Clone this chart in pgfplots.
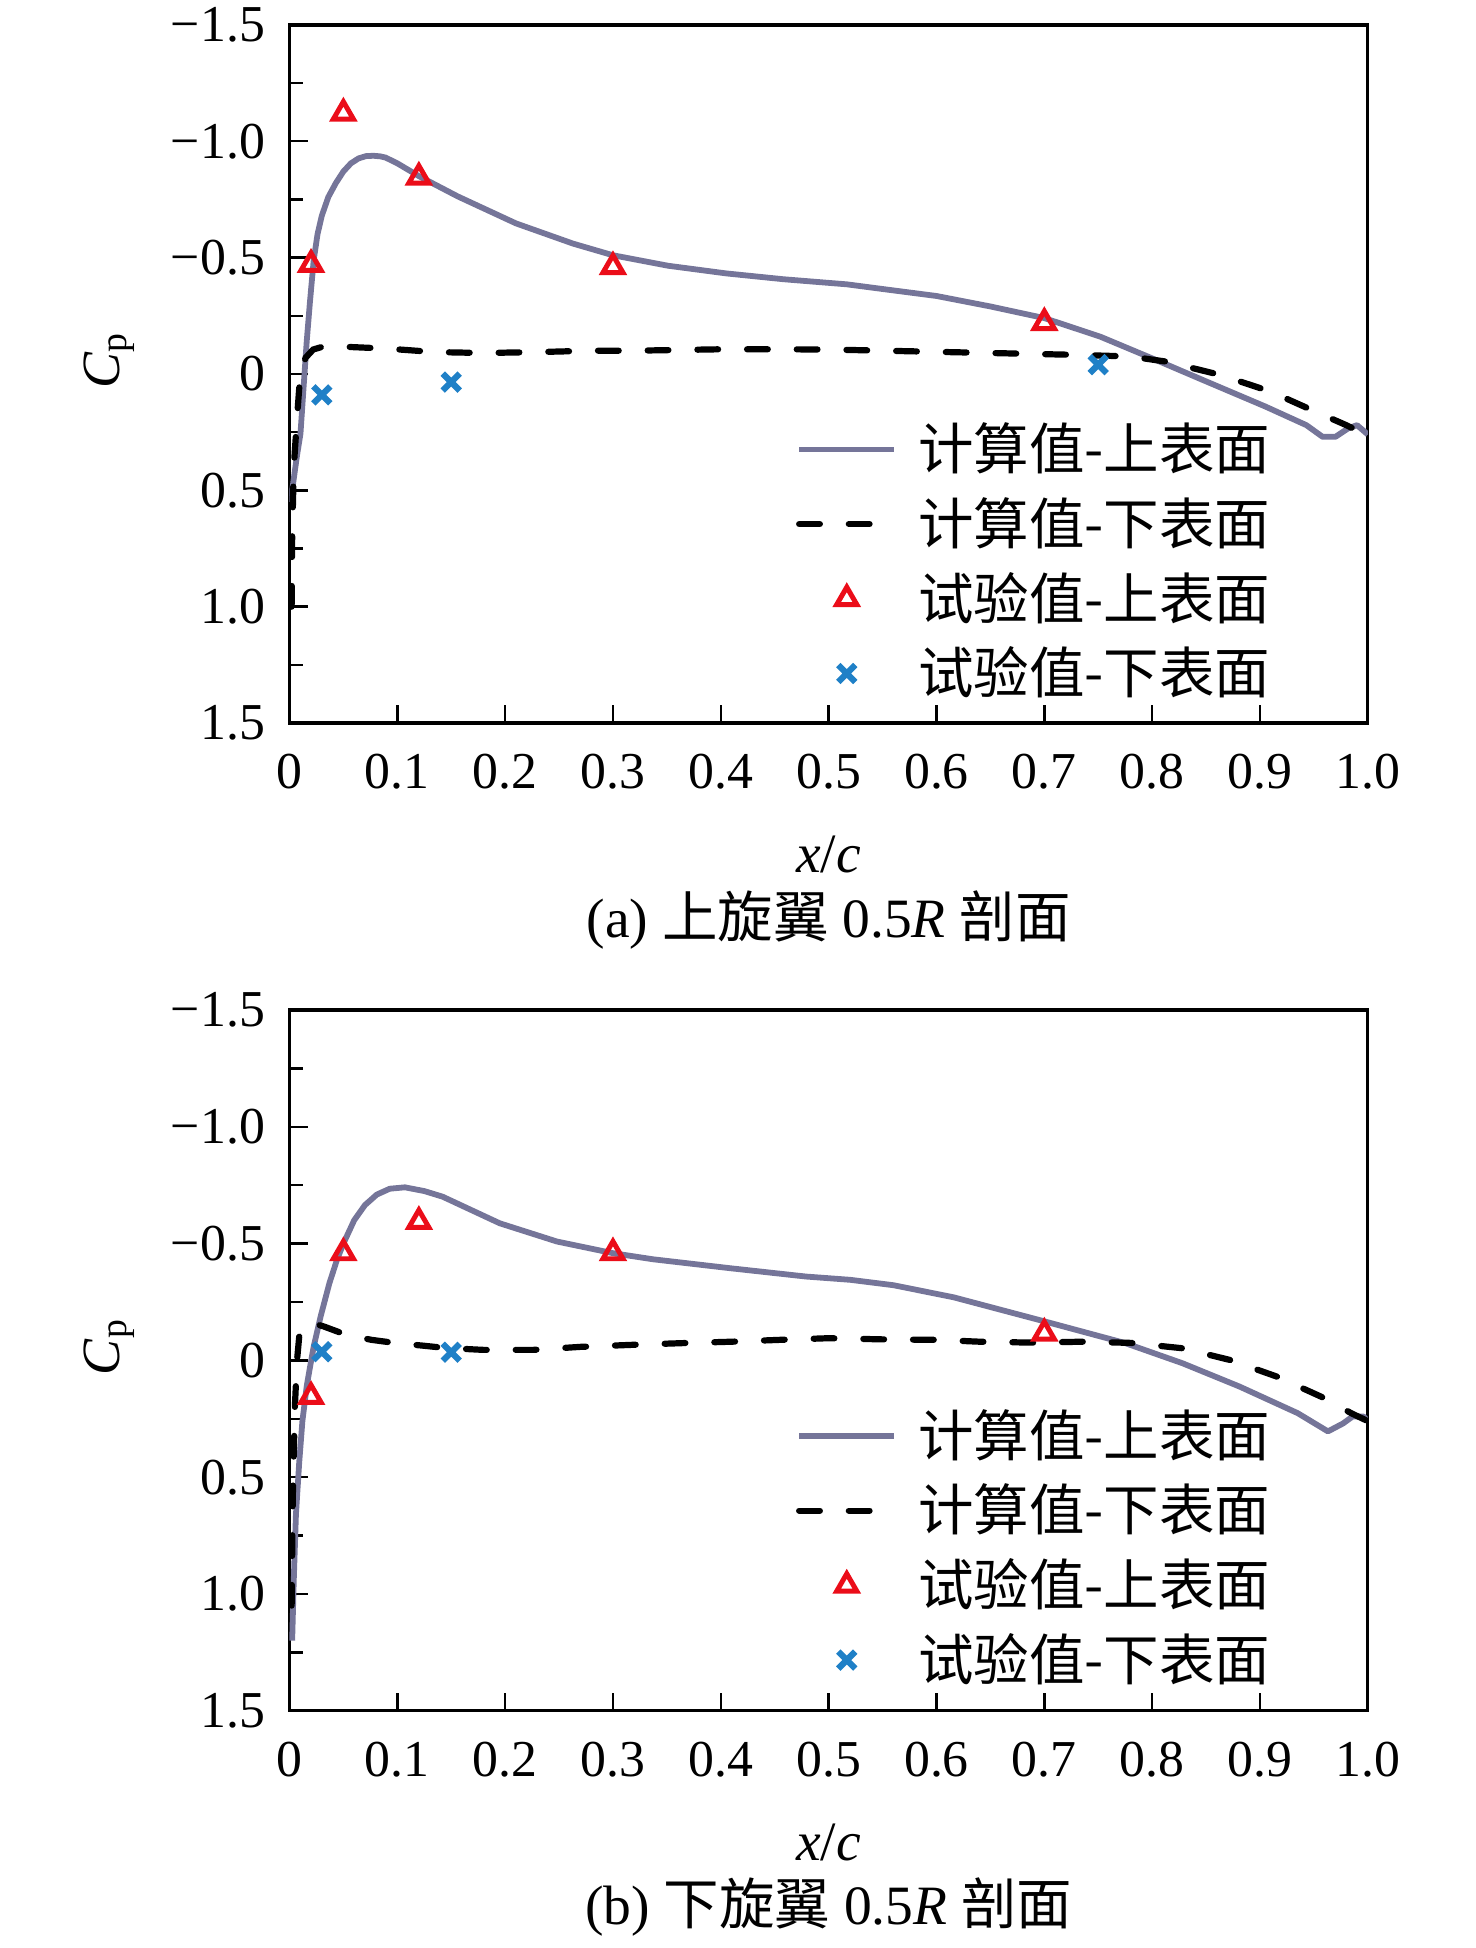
\documentclass[border=0pt]{standalone}
\usepackage{pgfplots}
\pgfplotsset{compat=1.18}
\usepackage{fontspec}
\setmainfont{Liberation Serif}
\newfontfamily\cjk{Noto Sans CJK SC}
\definecolor{upc}{rgb}{0.46,0.46,0.60}
\definecolor{trired}{rgb}{0.92,0.05,0.10}
\definecolor{xblue}{rgb}{0.12,0.50,0.78}
\pgfplotsset{
 myaxis/.style={
  scale only axis, width=260.4pt,
  xmin=0, xmax=1, ymin=-1.5, ymax=1.5, y dir=reverse,
  axis line style={line width=0.8pt},
  tick style={line width=0.6pt, black},
  tick align=inside,
  major tick length=4.4pt, minor tick length=3.2pt,
  xtick={0,0.1,0.2,0.3,0.4,0.5,0.6,0.7,0.8,0.9,1.0},
  xticklabels={0,0.1,0.2,0.3,0.4,0.5,0.6,0.7,0.8,0.9,1.0},
  ytick={-1.5,-1,-0.5,0,0.5,1,1.5},
  yticklabels={−1.5,−1.0,−0.5,0,0.5,1.0,1.5},
  minor y tick num=1,
  xtick pos=left, ytick pos=left,
  /pgf/number format/assume math mode=true,
  ticklabel style={font=\fontsize{12.5}{15}\selectfont},
  xticklabel style={yshift=-4pt},
  yticklabel style={xshift=-2.4pt},
  legend style={draw=none, fill=none, at={(0.469,0.443)}, anchor=north west,
    font=\cjk\fontsize{13.4}{15}\selectfont, row sep=1.2pt, inner sep=0pt,
    /tikz/every odd column/.append style={column sep=3pt}},
  legend cell align=left,
  legend image code/.code={\draw[mark repeat=2,mark phase=2,##1] plot coordinates {(0pt,0pt) (11.5pt,0pt) (23pt,0pt)};},
 },
 upline/.style={color=upc, line width=1.4pt, no marks, line join=round},
 lowline/.style={color=black, line width=1.5pt, no marks, line cap=round, dash pattern=on 5pt off 7pt},
 trimark/.style={only marks, mark=triangle, mark size=2.8pt, color=trired, line width=1.2pt, mark options={fill=white, solid}},
 xmark/.style={only marks, mark=x, mark size=2.9pt, color=xblue, line width=1.5pt},
}
\begin{document}
\begin{tikzpicture}
\path[use as bounding box] (0pt,0pt) rectangle (356.4pt,-470.4pt);
% ---------- (a) ----------
\begin{axis}[myaxis, at={(69.9pt,-174.6pt)}, anchor=south west, height=168.6pt]
\addplot[upline] coordinates {
(0.001,0.55) (0.004,0.45) (0.007,0.35) (0.0102,0.257) (0.0133,0.043) (0.016,-0.14)
(0.019,-0.31) (0.0225,-0.49) (0.026,-0.6) (0.030,-0.68) (0.036,-0.76) (0.043,-0.82)
(0.05,-0.87) (0.057,-0.905) (0.064,-0.926) (0.071,-0.936) (0.078,-0.9375) (0.084,-0.935) (0.089,-0.93) (0.10,-0.905)
(0.12,-0.85) (0.156,-0.763) (0.21,-0.647) (0.263,-0.56) (0.30,-0.51) (0.351,-0.465)
(0.405,-0.432) (0.458,-0.407) (0.517,-0.385) (0.55,-0.365) (0.60,-0.335) (0.65,-0.29) (0.70,-0.24)
(0.752,-0.16) (0.80,-0.067) (0.847,0.026) (0.905,0.14) (0.943,0.22) (0.958,0.27)
(0.97,0.27) (0.982,0.233) (0.99,0.22) (1.0,0.26)};
\addlegendentry{计算值-上表面}
\addplot[lowline] coordinates {
(0.002,1.0) (0.0025,0.7) (0.004,0.4) (0.007,0.19) (0.01,0.0) (0.015,-0.07)
(0.022,-0.105) (0.03,-0.116) (0.045,-0.118) (0.06,-0.115) (0.09,-0.109) (0.135,-0.094)
(0.18,-0.09) (0.23,-0.094) (0.28,-0.10) (0.32,-0.10) (0.40,-0.106) (0.45,-0.106)
(0.50,-0.105) (0.60,-0.095) (0.66,-0.089) (0.73,-0.082) (0.78,-0.075) (0.813,-0.053)
(0.863,0.004) (0.91,0.076) (0.948,0.155) (0.98,0.22) (1.0,0.265)};
\addlegendentry{计算值-下表面}
\addplot[trimark] coordinates {(0.02,-0.47) (0.05,-1.12) (0.12,-0.845) (0.30,-0.46) (0.70,-0.22)};
\addlegendentry{试验值-上表面}
\addplot[xmark] coordinates {(0.03,0.09) (0.15,0.035) (0.75,-0.04)};
\addlegendentry{试验值-下表面}
\end{axis}
% ---------- (b) ----------
\begin{axis}[myaxis, at={(69.9pt,-413.1pt)}, anchor=south west, height=169.2pt]
\addplot[upline] coordinates {
(0.0025,1.2) (0.004,0.94) (0.006,0.66) (0.009,0.44) (0.012,0.26) (0.016,0.11)
(0.019,0.03) (0.0225,-0.06) (0.029,-0.19) (0.037,-0.33) (0.044,-0.43) (0.05,-0.50)
(0.06,-0.60) (0.07,-0.665) (0.081,-0.71) (0.093,-0.735) (0.107,-0.741) (0.125,-0.725)
(0.142,-0.701) (0.195,-0.587) (0.248,-0.509) (0.30,-0.459) (0.337,-0.433) (0.408,-0.395)
(0.479,-0.359) (0.52,-0.345) (0.56,-0.322) (0.616,-0.27) (0.701,-0.166) (0.775,-0.074) (0.828,0.012)
(0.881,0.112) (0.935,0.226) (0.963,0.304) (0.977,0.27) (0.986,0.24) (0.996,0.24) (1.0,0.26)};
\addlegendentry{计算值-上表面}
\addplot[lowline] coordinates {
(0.002,1.05) (0.003,0.6) (0.005,0.2) (0.007,0.0) (0.009,-0.1) (0.012,-0.14) (0.016,-0.16)
(0.025,-0.155) (0.032,-0.145) (0.053,-0.109) (0.076,-0.088) (0.099,-0.074) (0.124,-0.063)
(0.145,-0.053) (0.18,-0.045) (0.226,-0.045) (0.27,-0.058) (0.32,-0.067) (0.365,-0.074)
(0.41,-0.08) (0.455,-0.088) (0.50,-0.095) (0.55,-0.09) (0.60,-0.088) (0.64,-0.08)
(0.69,-0.076) (0.735,-0.08) (0.78,-0.075) (0.828,-0.052) (0.872,-0.002) (0.916,0.07)
(0.957,0.156) (0.985,0.227) (1.0,0.26)};
\addlegendentry{计算值-下表面}
\addplot[trimark] coordinates {(0.02,0.155) (0.05,-0.46) (0.12,-0.594) (0.30,-0.46) (0.70,-0.116)};
\addlegendentry{试验值-上表面}
\addplot[xmark] coordinates {(0.03,-0.037) (0.15,-0.035)};
\addlegendentry{试验值-下表面}
\end{axis}
% ---------- labels ----------
\node[rotate=90, font=\fontsize{13}{15}\selectfont] at (26.4pt,-87pt) {\textit{C}\textsubscript{p}};
\node[rotate=90, font=\fontsize{13}{15}\selectfont] at (26.4pt,-325.2pt) {\textit{C}\textsubscript{p}};
\node[font=\fontsize{13.4}{15}\selectfont] at (200.1pt,-206.4pt) {\textit{x}/\textit{c}};
\node[font=\fontsize{13.4}{15}\selectfont] at (200.1pt,-444.9pt) {\textit{x}/\textit{c}};
\node[font=\fontsize{13.4}{15}\selectfont] at (200.1pt,-222.2pt) {(a) {\cjk 上旋翼} 0.5\textit{R} {\cjk 剖面}};
\node[font=\fontsize{13.4}{15}\selectfont] at (200.1pt,-460.6pt) {(b) {\cjk 下旋翼} 0.5\textit{R} {\cjk 剖面}};
\end{tikzpicture}
\end{document}
